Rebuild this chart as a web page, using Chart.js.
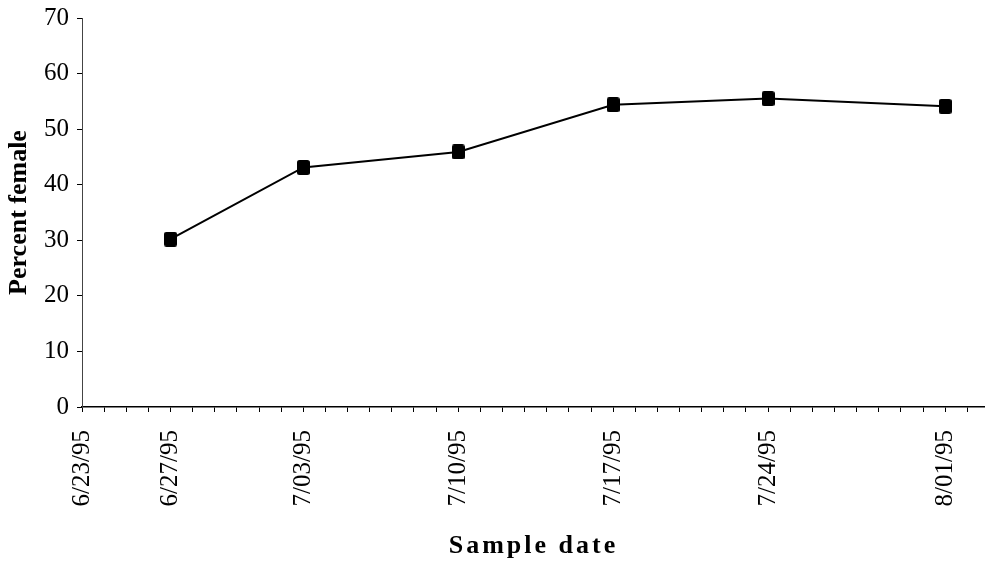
<!DOCTYPE html>
<html>
<head>
<meta charset="utf-8">
<title>Percent female by sample date</title>
<script src="https://cdn.jsdelivr.net/npm/chart.js@4/dist/chart.umd.min.js"></script>
<style>
  html, body { margin: 0; padding: 0; background: #ffffff; }
  #wrap { width: 985px; height: 565px; }
</style>
</head>
<body>
<div id="wrap"><canvas id="chart" width="985" height="565"></canvas></div>
<script>
// Sampling dates and the share of females found on each
const sampleDates = ['6/27/95', '7/03/95', '7/10/95', '7/17/95', '7/24/95', '8/01/95'];
const percentFemale = [30.2, 43.1, 45.9, 54.4, 55.5, 54.1];

// Dates written under the time axis (first one is the axis origin)
const dateTickLabels = ['6/23/95', '6/27/95', '7/03/95', '7/10/95', '7/17/95', '7/24/95', '8/01/95'];

// Y axis range and step
const yMin = 0, yMax = 70, yStep = 10;

// Days elapsed since the first labelled date
const DAY = 86400000;
function toUTC(s) {
  const [m, d, y] = s.split('/').map(Number);
  return Date.UTC(1900 + y, m - 1, d);
}
const origin = toUTC(dateTickLabels[0]);
const dayOf = s => Math.round((toUTC(s) - origin) / DAY);

const labelByDay = {};
dateTickLabels.forEach(s => { labelByDay[dayOf(s)] = s; });

const lastDay = dayOf('8/02/95');
const xMax = lastDay + 0.8;

const points = sampleDates.map((s, i) => ({ x: dayOf(s), y: percentFemale[i] }));

// Filled square marker
const marker = document.createElement('canvas');
marker.width = 13; marker.height = 15;
(function () {
  const c = marker.getContext('2d');
  c.fillStyle = '#000';
  c.beginPath();
  c.roundRect(0, 0, 13, 15, 2.5);
  c.fill();
})();

const serif = "'Liberation Serif', 'Times New Roman', serif";

// Spread out the letters of the x-axis title
const spacedTitle = {
  id: 'spacedTitle',
  beforeDraw(chart) {
    const s = chart.scales.x;
    if (!s || s._spaced) return;
    const orig = s.drawTitle;
    s.drawTitle = function () {
      const ctx = this.ctx;
      ctx.save();
      ctx.letterSpacing = '3px';
      orig.call(this);
      ctx.restore();
    };
    s._spaced = true;
  }
};

const whiteBg = {
  id: 'whiteBg',
  beforeDraw(chart) {
    const ctx = chart.ctx;
    ctx.save();
    ctx.fillStyle = '#ffffff';
    ctx.fillRect(0, 0, chart.width, chart.height);
    ctx.restore();
  }
};

new Chart(document.getElementById('chart'), {
  type: 'line',
  data: {
    datasets: [{
      data: points,
      borderColor: '#000',
      borderWidth: 2,
      pointStyle: marker,
      pointRadius: 7,
      pointHoverRadius: 7,
      pointBackgroundColor: '#000',
      pointBorderColor: '#000',
      tension: 0,
      fill: false,
      clip: false
    }]
  },
  options: {
    responsive: false,
    animation: false,
    events: [],
    layout: { autoPadding: false, padding: { top: 0, right: 0, bottom: 0, left: 0 } },
    plugins: {
      legend: { display: false },
      tooltip: { enabled: false }
    },
    scales: {
      x: {
        type: 'linear',
        min: 0,
        max: xMax,
        afterBuildTicks(scale) {
          const t = [];
          for (let d = 0; d <= lastDay; d++) t.push({ value: d });
          scale.ticks = t;
        },
        afterFit(scale) {
          // fixed band for the rotated dates and the title
          scale.height = 158;
          scale.paddingLeft = 0;
          scale.paddingRight = 0;
        },
        ticks: {
          autoSkip: false,
          maxRotation: 90,
          minRotation: 90,
          padding: 18,
          color: '#000',
          font: { family: serif, size: 25 },
          callback: v => labelByDay[v] || ''
        },
        grid: {
          display: true,
          drawOnChartArea: false,
          drawTicks: true,
          tickLength: 5,
          color: '#000',
          lineWidth: 1
        },
        border: { display: true, color: '#000', width: 1.5 },
        title: {
          display: true,
          text: 'Sample date',
          color: '#000',
          font: { family: serif, size: 26, weight: 'bold', lineHeight: 1.2 },
          padding: { top: 8, bottom: 3 }
        }
      },
      y: {
        min: yMin,
        max: yMax,
        afterFit(scale) {
          // fixed band for the value labels and the title
          scale.width = 82;
          scale.paddingTop = 18;
          scale.paddingBottom = 0;
        },
        ticks: {
          stepSize: yStep,
          padding: 8,
          color: '#000',
          font: { family: serif, size: 25 }
        },
        grid: {
          display: true,
          drawOnChartArea: false,
          drawTicks: true,
          tickLength: 5,
          color: '#000',
          lineWidth: 1
        },
        border: { display: true, color: '#444', width: 1 },
        title: {
          display: true,
          text: 'Percent female',
          color: '#000',
          font: { family: serif, size: 26, weight: 'bold', lineHeight: 1.2 },
          padding: { top: 4, bottom: 9 }
        }
      }
    }
  },
  plugins: [whiteBg, spacedTitle]
});
</script>
</body>
</html>
